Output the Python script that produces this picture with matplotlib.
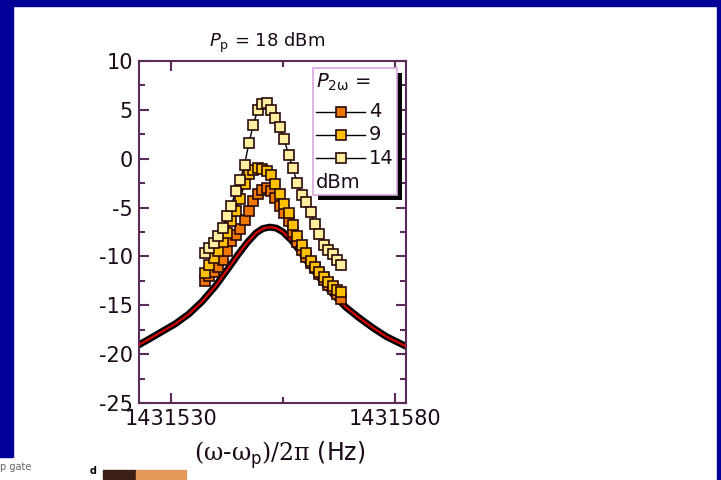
import numpy as np
import matplotlib
matplotlib.use("Agg")
import matplotlib.pyplot as plt
from matplotlib.lines import Line2D
from matplotlib.patches import Rectangle

plt.rcParams['font.family'] = ['DejaVu Sans']
plt.rcParams['axes.unicode_minus'] = False
plt.rcParams['mathtext.fontset'] = 'custom'
plt.rcParams['mathtext.rm'] = 'DejaVu Serif'
plt.rcParams['mathtext.it'] = 'DejaVu Sans:italic'
plt.rcParams['mathtext.sf'] = 'DejaVu Sans'

# measured trace at P_2w off (black) and its fit (red)
trace_freq = [1431522.7, 1431525, 1431528, 1431531, 1431534, 1431537, 1431540,
              1431543, 1431545, 1431547, 1431549, 1431550.5, 1431552, 1431553.5,
              1431555, 1431557, 1431559, 1431561, 1431563, 1431566, 1431569,
              1431572, 1431575, 1431578, 1431582.4]
trace_db = [-19.1, -18.5, -17.7, -16.9, -15.9, -14.6, -13.0,
            -11.1, -9.8, -8.6, -7.6, -7.15, -7.0, -7.1,
            -7.5, -8.4, -9.6, -10.9, -12.1, -13.8, -15.2,
            -16.3, -17.3, -18.2, -19.2]
fit_db = trace_db

# square-marker series, P_2w = 4, 9, 14 dBm
pts_freq = np.linspace(1431537.6, 1431568.0, 32)
p4 = [-12.5, -12.0, -11.6, -11.1, -10.4, -9.4, -8.4, -7.8, -7.2, -6.3, -5.3,
      -4.3, -3.6, -3.2, -3.0, -3.3, -4.0, -4.8, -5.6, -6.4, -7.5, -8.5,
      -9.3, -10.1, -10.7, -11.2, -11.8, -12.4, -12.9, -13.3, -13.8, -14.4]
p9 = [-11.7, -10.9, -10.2, -9.4, -8.5, -7.6, -6.4, -5.3, -4.1, -2.6, -1.6,
      -1.2, -1.0, -1.1, -1.3, -1.7, -2.6, -3.6, -4.6, -5.6, -6.8, -7.9,
      -8.8, -9.7, -10.5, -11.1, -11.6, -12.1, -12.6, -13.0, -13.4, -13.6]
p14 = [-9.7, -9.1, -8.6, -7.9, -7.1, -5.9, -4.8, -3.3, -2.2, -0.6, 1.6,
       3.5, 5.0, 5.6, 5.7, 5.0, 4.2, 3.2, 2.0, 0.4, -1.0, -2.5,
       -3.7, -4.4, -5.5, -6.7, -7.7, -8.8, -9.3, -9.8, -10.4, -10.9]

series = [(p4, '#f07800', '4'), (p9, '#ffc000', '9'), (p14, '#fff0a0', '14')]

W, H = 721, 480
fig = plt.figure(figsize=(W / 100, H / 100), dpi=100)
fig.patch.set_facecolor('white')


def fp(x, y):
    return x / W, 1 - y / H


navy = '#000099'
fig.patches.append(Rectangle(fp(0, 6), 1, 6 / H, transform=fig.transFigure, color=navy, zorder=0))
fig.patches.append(Rectangle(fp(0, 457), 13 / W, 457 / H, transform=fig.transFigure, color=navy, zorder=0))
fig.patches.append(Rectangle(fp(717, 480), 4 / W, 1, transform=fig.transFigure, color=navy, zorder=0))

ax = fig.add_axes([138.5 / W, 1 - 403 / H, (406 - 138.5) / W, (403 - 61) / H])

spine_c = '#5a2a5a'
for s in ax.spines.values():
    s.set_color(spine_c)
    s.set_linewidth(1.5)

ax.plot(trace_freq, trace_db, color='black', lw=5, solid_capstyle='round', zorder=2)
ax.plot(trace_freq, fit_db, color='#e00000', lw=1.5, zorder=3)

for vals, c, lab in series:
    ax.plot(pts_freq, vals, color='black', lw=1, marker='s', ms=7.5,
            mfc=c, mec='#2a0a0a', mew=1.2, zorder=4)

ax.set_xlim(1431522.8, 1431582.4)
ax.set_ylim(-25, 10)
ax.set_xticks([1431530, 1431580])
ax.set_xticks([1431555], minor=True)
ax.set_xticklabels(['1431530', '1431580'])
ax.set_yticks(np.arange(-25, 11, 5))
ax.set_yticks(np.arange(-22.5, 10, 5), minor=True)
ax.tick_params(which='both', direction='in', top=True, right=True,
               color=spine_c, width=1.5, labelsize=15, labelcolor='#1a0a1a')
ax.tick_params(which='major', length=7, pad=4)
ax.tick_params(which='minor', length=4)

fig.text(267 / W, 1 - 43 / H, r'$\mathit{P}_{\mathsf{p}}$ = 18 dBm', ha='center', va='center',
         fontsize=13, color='#1a0a1a')
fig.text(280 / W, 1 - 455 / H, r'$\mathrm{(\omega}$-$\mathrm{\omega}_{\mathsf{p}}\mathrm{)/2\pi}$ (Hz)',
         ha='center', va='center', fontsize=17, color='#1a0a1a')

# legend box with black drop shadow
fig.patches.append(Rectangle(fp(318, 200), 84 / W, 127 / H, transform=fig.transFigure,
                             facecolor='black', edgecolor='none', zorder=5))
fig.patches.append(Rectangle(fp(313, 195), 84 / W, 127 / H, transform=fig.transFigure,
                             facecolor='white', edgecolor='#d9a6e0', lw=1.2, zorder=6))
fig.text(*fp(316, 88), r'$\mathit{P}_{\mathsf{2\omega}}$ =', fontsize=14, va='baseline',
         color='#1a0a1a', zorder=7)
for i, (vals, c, lab) in enumerate(series):
    yy = 111.7 + 23.3 * i
    x0, _ = fp(316, yy)
    xm, _ = fp(341, yy)
    x1, y0 = fp(365, yy)
    fig.add_artist(Line2D([x0, xm, x1], [y0, y0, y0], transform=fig.transFigure, color='black',
                          lw=1, marker='s', ms=7.5, markevery=[1], mfc=c, mec='#2a0a0a',
                          mew=1.2, zorder=7))
    fig.text(*fp(369, yy), lab, fontsize=14, va='center', color='#1a0a1a', zorder=7)
fig.text(*fp(316, 183), 'dBm', fontsize=14, va='center', color='#1a0a1a', zorder=7)

# cut-off bits of the next slide at the bottom edge
fig.text(*fp(0, 467), 'p gate', fontsize=7, color='#666666', va='center')
fig.text(*fp(90, 471), 'd', fontsize=7, color='black', va='center', weight='bold')
fig.patches.append(Rectangle(fp(103, 480), 33 / W, 10 / H, transform=fig.transFigure,
                             color='#3b1e14', zorder=1))
fig.patches.append(Rectangle(fp(136, 480), 50 / W, 10 / H, transform=fig.transFigure,
                             color='#e39a5a', zorder=1))

fig.savefig('out.png', dpi=100)
